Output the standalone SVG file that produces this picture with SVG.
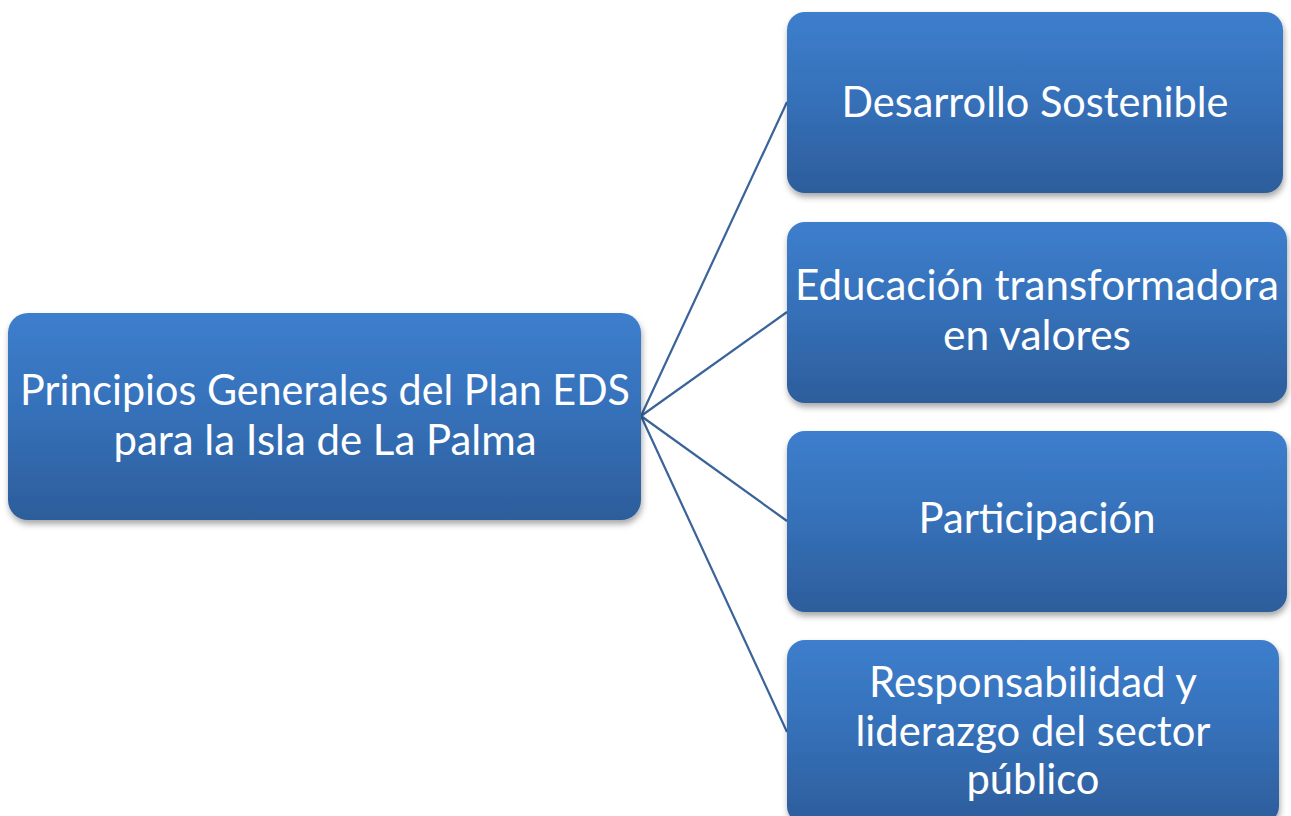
<svg xmlns="http://www.w3.org/2000/svg" width="1291" height="816" viewBox="0 0 1291 816">
  <defs>
    <linearGradient id="boxGrad" x1="0" y1="0" x2="0" y2="1">
      <stop offset="0" stop-color="#3d7ecd"/>
      <stop offset="0.5" stop-color="#3570b8"/>
      <stop offset="1" stop-color="#2d5d9b"/>
    </linearGradient>
    <filter id="shadow" x="-10%" y="-10%" width="120%" height="130%">
      <feDropShadow dx="1" dy="4" stdDeviation="3" flood-color="#000" flood-opacity="0.35"/>
    </filter>
  </defs>
  <style>
    .box { fill: url(#boxGrad); filter: url(#shadow); }
    .lbl { font-family: Lato, "Open Sans", "Liberation Sans", sans-serif; font-size: 42px; fill: #ffffff; text-anchor: middle; }
    .conn { stroke: #3a6399; stroke-width: 2.2; fill: none; }
  </style>
  <rect width="1291" height="816" fill="#ffffff"/>

  <g id="connectors">
    <line class="conn" x1="641" y1="416" x2="787" y2="102"/>
    <line class="conn" x1="641" y1="416" x2="787" y2="312"/>
    <line class="conn" x1="641" y1="416" x2="787" y2="521"/>
    <line class="conn" x1="641" y1="416" x2="787" y2="732"/>
  </g>

  <g id="node-root">
    <rect class="box" x="8" y="313" width="633" height="207" rx="20" ry="20"/>
    <text class="lbl" x="325" y="405" textLength="610" lengthAdjust="spacingAndGlyphs">Principios Generales del Plan EDS</text>
    <text class="lbl" x="325" y="455" textLength="423" lengthAdjust="spacingAndGlyphs">para la Isla de La Palma</text>
  </g>

  <g id="node-desarrollo">
    <rect class="box" x="787" y="12" width="496" height="181" rx="18" ry="18"/>
    <text class="lbl" x="1035" y="117" textLength="387" lengthAdjust="spacingAndGlyphs">Desarrollo Sostenible</text>
  </g>

  <g id="node-educacion">
    <rect class="box" x="787" y="222" width="500" height="181" rx="18" ry="18"/>
    <text class="lbl" x="1037" y="300" textLength="484" lengthAdjust="spacingAndGlyphs">Educación transformadora</text>
    <text class="lbl" x="1037" y="350" textLength="188" lengthAdjust="spacingAndGlyphs">en valores</text>
  </g>

  <g id="node-participacion">
    <rect class="box" x="787" y="431" width="500" height="181" rx="18" ry="18"/>
    <text class="lbl" x="1037" y="533" textLength="237" lengthAdjust="spacingAndGlyphs">Participación</text>
  </g>

  <g id="node-responsabilidad">
    <rect class="box" x="787" y="640" width="492" height="184" rx="18" ry="18"/>
    <text class="lbl" x="1033" y="697" textLength="328" lengthAdjust="spacingAndGlyphs">Responsabilidad y</text>
    <text class="lbl" x="1033" y="746" textLength="355" lengthAdjust="spacingAndGlyphs">liderazgo del sector</text>
    <text class="lbl" x="1033" y="794" textLength="133" lengthAdjust="spacingAndGlyphs">público</text>
  </g>
</svg>
